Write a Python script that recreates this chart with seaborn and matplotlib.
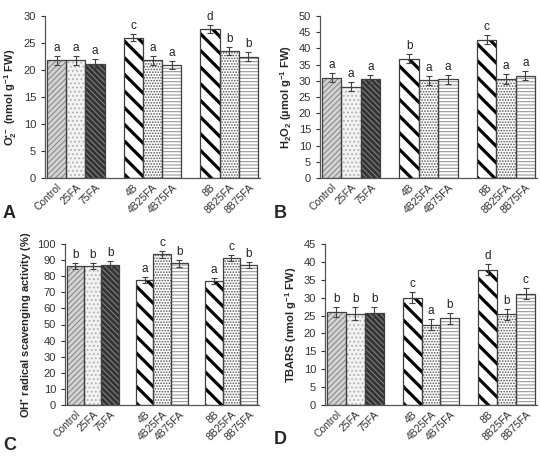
import numpy as np
import pandas as pd
import matplotlib
matplotlib.use("Agg")
import matplotlib.pyplot as plt
import seaborn as sns
from matplotlib.patches import Rectangle

sns.set_style("ticks")
plt.rcParams['font.family'] = ['Liberation Sans', 'DejaVu Sans']
plt.rcParams['hatch.linewidth'] = 0.8
plt.rcParams['mathtext.fontset'] = 'custom'
plt.rcParams['mathtext.rm'] = 'Liberation Sans:bold'
plt.rcParams['mathtext.it'] = 'Liberation Sans:bold'
plt.rcParams['mathtext.bf'] = 'Liberation Sans:bold'
plt.rcParams['mathtext.default'] = 'bf'

treatments = ["Control", "25FA", "75FA", "4B", "4B25FA", "4B75FA", "8B", "8B25FA", "8B75FA"]
order = ["Control", "25FA", "75FA", " ", "4B", "4B25FA", "4B75FA", "  ", "8B", "8B25FA", "8B75FA"]

o2_vals = [21.8, 21.8, 21.2, 26.0, 21.8, 20.9, 27.6, 23.5, 22.5]
o2_err = [0.8, 0.8, 0.8, 0.7, 0.8, 0.8, 0.7, 0.8, 0.8]
o2_letters = ["a", "a", "a", "c", "a", "a", "d", "b", "b"]

h2o2_vals = [31.0, 28.2, 30.5, 36.8, 30.2, 30.5, 42.7, 30.5, 31.6]
h2o2_err = [1.4, 1.4, 1.4, 1.4, 1.4, 1.4, 1.4, 1.5, 1.5]
h2o2_letters = ["a", "a", "a", "b", "a", "a", "c", "a", "a"]

oh_vals = [86.5, 86.3, 87.2, 77.8, 93.5, 88.0, 77.2, 91.2, 86.8]
oh_err = [2.0, 2.0, 2.0, 2.0, 2.0, 2.0, 1.8, 2.0, 2.0]
oh_letters = ["b", "b", "b", "a", "c", "b", "a", "c", "b"]

tbars_vals = [26.0, 25.5, 25.8, 30.0, 22.5, 24.2, 37.8, 25.3, 31.1]
tbars_err = [1.5, 1.8, 1.6, 1.5, 1.5, 1.6, 1.5, 1.5, 1.5]
tbars_letters = ["b", "b", "b", "c", "a", "b", "d", "b", "c"]

styles = {
    "Control": dict(face="#d4d4d4", hatch="//////", hc="#8a8a8a"),
    "25FA": dict(face="#f2f2f2", hatch="....", hc="#b0b0b0"),
    "75FA": dict(face="#333333", hatch="\\\\\\\\\\\\", hc="#808080"),
    "4B": dict(face="#ffffff", hatch="\\\\", hc="#000000", lw=2.3),
    "4B25FA": dict(face="#ffffff", hatch="......", hc="#555555"),
    "4B75FA": dict(face="#ffffff", hatch="-----", hc="#999999"),
    "8B": dict(face="#ffffff", hatch="\\\\", hc="#000000", lw=2.3),
    "8B25FA": dict(face="#ffffff", hatch="......", hc="#555555"),
    "8B75FA": dict(face="#ffffff", hatch="-----", hc="#999999"),
}

fig = plt.figure(figsize=(5.4, 4.74), dpi=100)

panels = [
    ("A", o2_vals, o2_err, o2_letters, "O$_2^{•−}$ (nmol g$^{-1}$ FW)", 30, 5, [45, 16, 260, 178]),
    ("B", h2o2_vals, h2o2_err, h2o2_letters, "H$_2$O$_2$ (µmol g$^{-1}$ FW)", 50, 5, [320, 16, 537, 178]),
    ("C", oh_vals, oh_err, oh_letters, "OH$^{•}$ radical scavenging activity (%)", 100, 10, [65, 244, 259, 405]),
    ("D", tbars_vals, tbars_err, tbars_letters, "TBARS (nmol g$^{-1}$ FW)", 45, 5, [325, 244, 537, 405]),
]
W, H = 540, 474
letter_pos = {"A": (3, 213), "B": (274, 213), "C": (3, 445), "D": (274, 440)}

for name, vals, errs, letters, ylabel, ymax, ystep, box in panels:
    l, t, r, b = box
    ax = fig.add_axes([l / W, 1 - b / H, (r - l) / W, (b - t) / H])
    df = pd.DataFrame({"treatment": treatments, "value": vals})
    sns.barplot(data=df, x="treatment", y="value", order=order, width=1.0,
                color="white", ax=ax, errorbar=None)
    lut = dict(zip(treatments, range(len(treatments))))
    for p in list(ax.patches):
        cx = p.get_x() + p.get_width() / 2
        idx = int(round(cx))
        cat = order[idx]
        if cat not in lut:
            continue
        i = lut[cat]
        st = styles[cat]
        p.set_facecolor(st["face"])
        p.set_hatch(st["hatch"])
        p.set_edgecolor(st["hc"])
        p.set_linewidth(0)
        if hasattr(p, "set_hatch_linewidth"):
            p.set_hatch_linewidth(st.get("lw", 0.8))
        ax.add_patch(Rectangle((p.get_x(), p.get_y()), p.get_width(), p.get_height(),
                               fill=False, edgecolor="#404040", linewidth=0.9, zorder=3))
        h = p.get_height()
        ax.errorbar(cx, h, yerr=errs[i], fmt="none", ecolor="#404040",
                    elinewidth=0.8, capsize=2.2, capthick=0.8, zorder=4)
        ax.text(cx, h + errs[i] + ymax * 0.012, letters[i], ha="center", va="bottom",
                fontsize=8.5, color="#222222")
    ax.set_xlim(-0.6, 10.6)
    ax.set_ylim(0, ymax)
    ax.set_yticks(np.arange(0, ymax + 0.1, ystep))
    ax.set_xlabel("")
    ax.set_ylabel(ylabel, fontsize=8, fontweight="bold", labelpad=3)
    ax.set_xticks(range(len(order)))
    ax.set_xticklabels(order, rotation=45, ha="right", rotation_mode="anchor", fontsize=7.5, color="#333333")
    ax.tick_params(axis="x", length=0, pad=3)
    ax.tick_params(axis="y", labelsize=8, length=3, width=0.8, colors="#333333")
    sns.despine(ax=ax)
    for s in ["left", "bottom"]:
        ax.spines[s].set_color("#555555")
        ax.spines[s].set_linewidth(0.9)
    lx, ly = letter_pos[name]
    fig.text(lx / W, 1 - ly / H, name, fontsize=13, fontweight="bold", va="center", ha="left")

fig.savefig("out.png", dpi=100)
